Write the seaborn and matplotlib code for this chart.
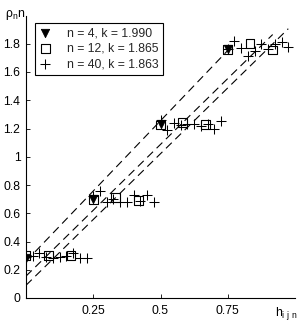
import numpy as np
import pandas as pd
import matplotlib
matplotlib.use("Agg")
import matplotlib.pyplot as plt
import seaborn as sns

# ---- data ----
h4 = [0.0, 0.25, 0.5, 0.75]
r4 = [0.28, 0.70, 1.23, 1.76]

h12 = [0.0, 0.083, 0.167, 0.25, 0.333, 0.417, 0.5, 0.583, 0.667, 0.75, 0.833, 0.917]
r12 = [0.30, 0.30, 0.30, 0.70, 0.71, 0.69, 1.225, 1.24, 1.23, 1.76, 1.80, 1.755]

h40 = [0.0, 0.025, 0.05, 0.075, 0.1, 0.125, 0.15, 0.175, 0.2, 0.225,
       0.25, 0.275, 0.3, 0.325, 0.35, 0.375, 0.4, 0.425, 0.45, 0.475,
       0.5, 0.525, 0.55, 0.575, 0.6, 0.625, 0.65, 0.675, 0.7, 0.725,
       0.75, 0.775, 0.8, 0.825, 0.85, 0.875, 0.9, 0.925, 0.95, 0.975]
r40 = [0.29, 0.30, 0.32, 0.29, 0.28, 0.29, 0.30, 0.32, 0.28, 0.28,
       0.72, 0.76, 0.68, 0.70, 0.68, 0.68, 0.73, 0.69, 0.73, 0.68,
       1.26, 1.19, 1.24, 1.225, 1.23, 1.235, 1.22, 1.23, 1.195, 1.255,
       1.76, 1.82, 1.77, 1.715, 1.75, 1.80, 1.76, 1.80, 1.81, 1.78]

labels = ["n = 4, k = 1.990", "n = 12, k = 1.865", "n = 40, k = 1.863"]
slopes = [1.990, 1.865, 1.863]
intercepts = [0.26, 0.155, 0.09]
h_end = [0.75, 0.917, 0.975]

x_ticks = [0.25, 0.5, 0.75]
y_ticks = [0, 0.2, 0.4, 0.6, 0.8, 1.0, 1.2, 1.4, 1.6, 1.8]
y_ticklabels = ["0", "0.2", "0.4", "0.6", "0.8", "1", "1.2", "1.4", "1.6", "1.8"]

# ---- style ----
sns.set_theme(style="white")
plt.rcParams["font.family"] = ["Liberation Sans", "DejaVu Sans"]
plt.rcParams["mathtext.fontset"] = "custom"
plt.rcParams["mathtext.rm"] = "Liberation Sans"
plt.rcParams["lines.scale_dashes"] = False

FS = 8.8

fig = plt.figure(figsize=(3.06, 3.27), dpi=100)
ax = fig.add_axes([26 / 306, 29 / 327, 269 / 306, 282.5 / 327])

# dashed fit lines
for k, b, he in zip(slopes, intercepts, h_end):
    xs = np.array([0.0, he])
    sns.lineplot(x=xs, y=k * xs + b, ax=ax, color="black", lw=0.8,
                 dashes=False, legend=False, zorder=1)
for ln in ax.get_lines():
    ln.set_dashes((5.8, 3.6))

d4 = pd.DataFrame({"h": h4, "r": r4})
d12 = pd.DataFrame({"h": h12, "r": r12})
d40 = pd.DataFrame({"h": h40, "r": r40})

sns.scatterplot(data=d4, x="h", y="r", ax=ax, marker="v", s=36,
                color="black", edgecolor="black", linewidth=0.6,
                label=labels[0], zorder=3)
sns.scatterplot(data=d12, x="h", y="r", ax=ax, marker="s", s=40,
                facecolor="none", edgecolor="black", linewidth=0.8,
                label=labels[1], zorder=4)
sns.scatterplot(data=d40, x="h", y="r", ax=ax, marker="+", s=46,
                color="black", linewidth=0.75,
                label=labels[2], zorder=5)

ax.set_xlim(0, 1)
ax.set_ylim(0, 2)
ax.set_xticks(x_ticks)
ax.set_xticklabels(["0.25", "0.5", "0.75"])
ax.set_yticks(y_ticks)
ax.set_yticklabels(y_ticklabels)
ax.set_xlabel("")
ax.set_ylabel("")

for side in ["top", "right"]:
    ax.spines[side].set_visible(False)
for side in ["left", "bottom"]:
    ax.spines[side].set_color("black")
    ax.spines[side].set_linewidth(0.8)

ax.tick_params(axis="both", direction="in", length=3, width=0.6,
               colors="black", labelsize=FS, left=True, bottom=True)
ax.tick_params(axis="y", pad=4)
ax.tick_params(axis="x", pad=5)

ax.text(-0.078, 1.0, r"ρ$_{\mathregular{n}}$n", transform=ax.transAxes,
        ha="left", va="center", fontsize=FS, color="black")
ax.text(0.925, -0.055, r"h$_{\mathregular{i\ j\ n}}$", transform=ax.transAxes,
        ha="left", va="center", fontsize=FS, color="black")

leg = ax.legend(loc="upper left", bbox_to_anchor=(0.033, 0.973),
                borderaxespad=0, fontsize=FS, frameon=True, fancybox=False,
                handlelength=1.0, handletextpad=1.25, borderpad=0.35,
                labelspacing=0.28, scatterpoints=1)
leg.get_frame().set_edgecolor("black")
leg.get_frame().set_linewidth(0.8)
leg.get_frame().set_alpha(1)

fig.savefig("out.png", dpi=100, facecolor="white")
